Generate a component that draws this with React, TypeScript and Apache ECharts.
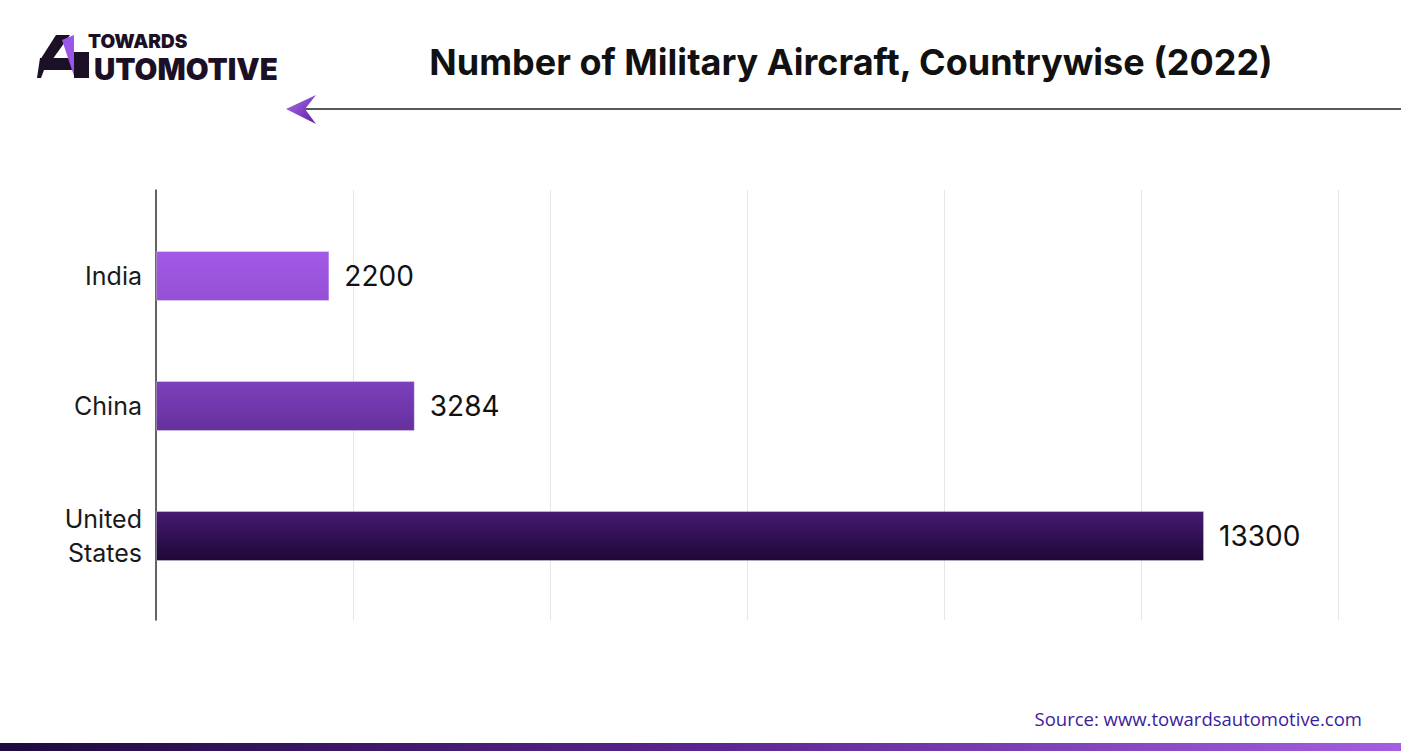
import React, { useEffect, useRef } from "react";
import * as echarts from "echarts";

const categories = ["India", "China", "United States"];
const aircraftCounts = [2200, 3284, 13300];
const barTopColors = ["#a35ae6", "#7c40bc", "#471a74"];
const barBottomColors = ["#9550d6", "#66309c", "#1e0836"];
const xTicks = { min: 0, max: 15000, interval: 2500 };
const titleText = "Number of Military Aircraft, Countrywise (2022)";
const sourceText = "Source: www.towardsautomotive.com";

export default function App() {
  const ref = useRef<HTMLDivElement>(null);
  useEffect(() => {
    if (!ref.current) return;
    const chart = echarts.init(ref.current, null, { renderer: "svg" });
    const font = "Inter, 'Noto Sans', sans-serif";
    const data = aircraftCounts.map((v, i) => ({
      value: v,
      itemStyle: {
        color: new echarts.graphic.LinearGradient(0, 0, 0, 1, [
          { offset: 0, color: barTopColors[i] },
          { offset: 1, color: barBottomColors[i] },
        ]),
        borderColor: "rgba(255,255,255,0.3)",
        borderWidth: 1,
      },
    }));
    chart.setOption({
      animation: false,
      backgroundColor: "#ffffff",
      grid: [
        { left: 156, right: 63, top: 190, bottom: 131 },
        { left: 156, right: 63, top: 211, bottom: 150 },
      ],
      xAxis: [
        {
          gridIndex: 0,
          type: "value",
          ...xTicks,
          axisLabel: { show: false },
          axisLine: { show: false },
          axisTick: { show: false },
          splitLine: { show: true, lineStyle: { color: "#e6e6e6", width: 1 } },
        },
        {
          gridIndex: 1,
          type: "value",
          ...xTicks,
          show: false,
          splitLine: { show: false },
        },
      ],
      yAxis: [
        {
          gridIndex: 0,
          type: "category",
          data: categories,
          inverse: true,
          axisLabel: { show: false },
          axisTick: { show: false },
          axisLine: { show: true, lineStyle: { color: "#333333", width: 1.5 } },
          splitLine: { show: false },
        },
        {
          gridIndex: 1,
          type: "category",
          data: categories,
          inverse: true,
          axisLine: { show: false },
          axisTick: { show: false },
          splitLine: { show: false },
          axisLabel: {
            margin: 14,
            fontSize: 25,
            lineHeight: 34,
            color: "#1a1a1a",
            fontFamily: font,
            formatter: (v: string) => v.replace(" ", "\n"),
          },
        },
      ],
      series: [
        {
          type: "bar",
          xAxisIndex: 1,
          yAxisIndex: 1,
          data,
          barWidth: 50,
          label: {
            show: true,
            position: "right",
            distance: 15,
            fontSize: 28,
            color: "#111111",
            fontFamily: font,
          },
        },
      ],
      graphic: [
        {
          type: "text",
          x: 851,
          y: 62,
          style: {
            text: titleText,
            font: `700 36px ${font}`,
            fill: "#111111",
            align: "center",
            verticalAlign: "middle",
          },
        },
        {
          type: "line",
          shape: { x1: 305, y1: 109, x2: 1401, y2: 109 },
          style: { stroke: "#222222", lineWidth: 1.5 },
        },
        {
          type: "polygon",
          shape: { points: [[286, 109], [316, 95], [305, 109], [316, 124]] },
          style: {
            fill: new echarts.graphic.LinearGradient(0, 0, 1, 1, [
              { offset: 0, color: "#b06cf0" },
              { offset: 1, color: "#5a1fa0" },
            ]),
          },
        },
        // logo
        {
          type: "polygon",
          shape: { points: [[56, 35], [70, 35], [52, 60], [40, 60]] },
          style: { fill: "#1b1026" },
        },
        {
          type: "polygon",
          shape: { points: [[40, 58], [74, 58], [74, 70], [44, 70], [41, 78], [37, 78]] },
          style: { fill: "#1b1026" },
        },
        {
          type: "polygon",
          shape: { points: [[74, 52], [89, 52], [89, 78], [74, 78]] },
          style: { fill: "#1b1026" },
        },
        {
          type: "polygon",
          shape: { points: [[62, 40], [74, 35], [74, 76]] },
          style: { fill: "#9b55e8" },
        },
        {
          type: "text",
          x: 88,
          y: 41,
          style: {
            text: "TOWARDS",
            font: `900 19px ${font}`,
            verticalAlign: "middle",
            fill: "#1b1026",
          },
        },
        {
          type: "text",
          x: 94,
          y: 68.5,
          style: {
            text: "UTOMOTIVE",
            font: `900 29.5px ${font}`,
            verticalAlign: "middle",
            fill: "#1b1026",
          },
        },
        {
          type: "text",
          x: 1362,
          y: 718,
          style: {
            text: sourceText,
            font: `500 18.5px 'Open Sans', ${font}`,
            fill: "#3b1d9e",
            align: "right",
            verticalAlign: "middle",
          },
        },
        {
          type: "rect",
          shape: { x: 0, y: 743, width: 1401, height: 8 },
          style: {
            fill: new echarts.graphic.LinearGradient(0, 0, 1, 0, [
              { offset: 0, color: "#1e0a3e" },
              { offset: 0.5, color: "#5a2590" },
              { offset: 1, color: "#a45ee2" },
            ]),
          },
        },
      ],
    });
    return () => chart.dispose();
  }, []);
  return <div ref={ref} style={{ width: 1401, height: 751, position: "absolute", left: 0, top: 0 }} />;
}
